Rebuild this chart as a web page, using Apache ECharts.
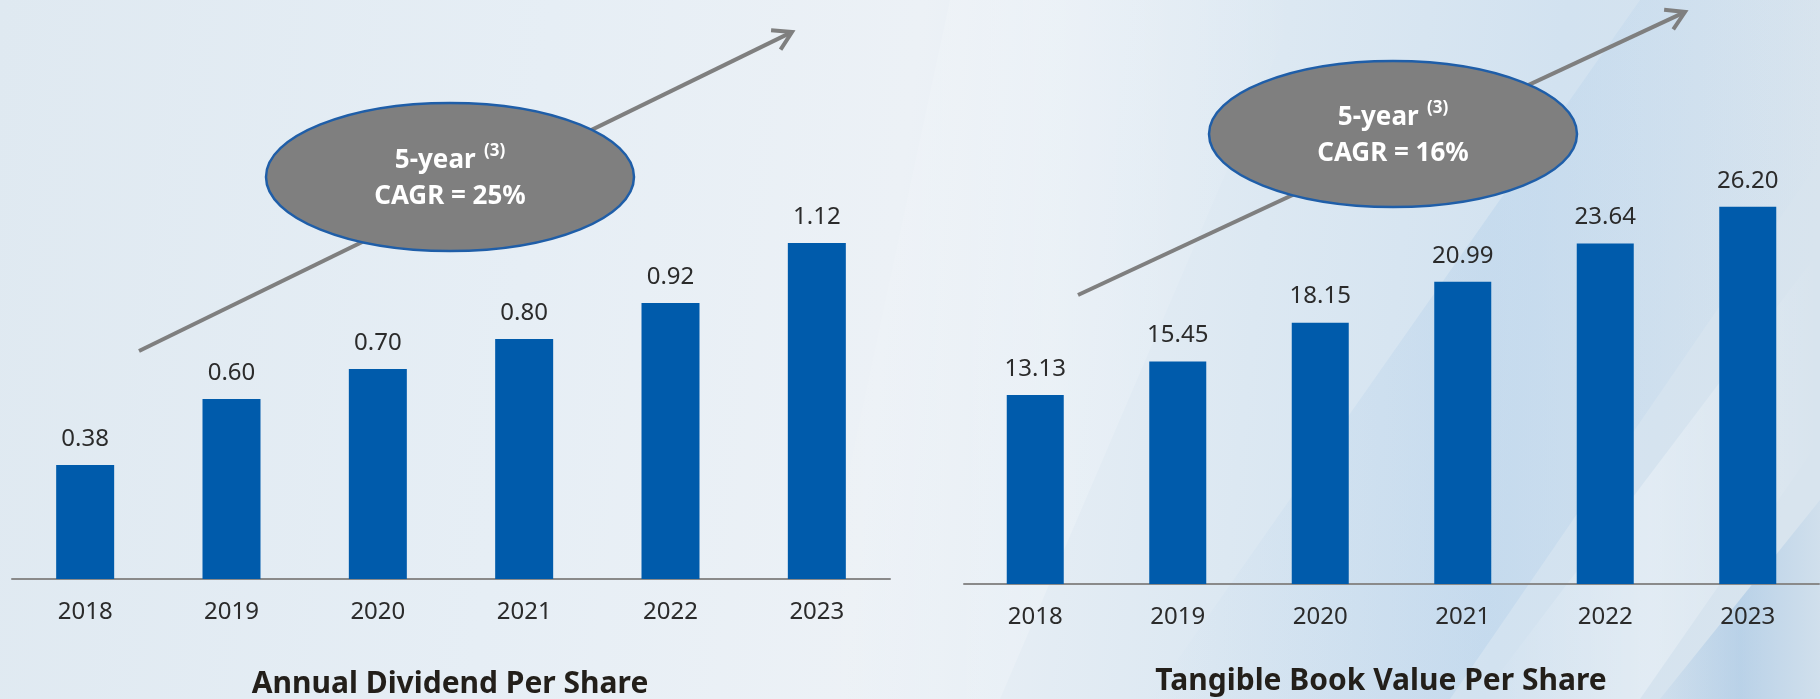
<!DOCTYPE html>
<html>
<head>
<meta charset="utf-8">
<script src="https://cdn.jsdelivr.net/npm/echarts@6/dist/echarts.min.js"></script>
<style>
html,body{margin:0;padding:0;width:1820px;height:699px;overflow:hidden;}
#chart{width:1820px;height:699px;}
</style>
</head>
<body>
<div id="chart"></div>
<script>
// ---- data ----
const years = ['2018', '2019', '2020', '2021', '2022', '2023'];
const dividendPerShare = [0.38, 0.60, 0.70, 0.80, 0.92, 1.12];
const tangibleBookValue = [13.13, 15.45, 18.15, 20.99, 23.64, 26.20];
const leftTitle = 'Annual Dividend Per Share';
const rightTitle = 'Tangible Book Value Per Share';
const leftCagr = 'CAGR = 25%';
const rightCagr = 'CAGR = 16%';

const FONT = '"Noto Sans", "Open Sans", sans-serif';
const BAR = '#005BAB';
const TXT = '#2b2b2b';

function arrow(x1, y1, x2, y2) {
  const dx = x2 - x1, dy = y2 - y1, L = Math.hypot(dx, dy);
  const ux = dx / L, uy = dy / L;
  const a = 31 * Math.PI / 180, len = 21;
  const bx = -ux, by = -uy;
  const p1 = [x2 + len * (bx * Math.cos(a) - by * Math.sin(a)), y2 + len * (bx * Math.sin(a) + by * Math.cos(a))];
  const p2 = [x2 + len * (bx * Math.cos(-a) - by * Math.sin(-a)), y2 + len * (bx * Math.sin(-a) + by * Math.cos(-a))];
  const st = {stroke: '#7f7f7f', lineWidth: 4, lineCap: 'butt', lineJoin: 'miter', fill: null};
  return [
    {type: 'line', z: 5, shape: {x1: x1, y1: y1, x2: x2 - ux * 2, y2: y2 - uy * 2}, style: st},
    {type: 'polyline', z: 5, shape: {points: [p1, [x2, y2], p2]}, style: st}
  ];
}

function bubble(cx, cy, rx, ry, line2) {
  return [
    {type: 'ellipse', z: 10, shape: {cx: cx, cy: cy, rx: rx, ry: ry},
     style: {fill: '#7f7f7f', stroke: '#1f5ea8', lineWidth: 2.5}},
    {type: 'text', z: 11, x: cx, y: cy + 2,
     style: {
       text: '{b|5-year} {s|(3)}\n{b|' + line2 + '}',
       align: 'center', verticalAlign: 'middle',
       fill: '#ffffff',
       rich: {
         b: {fontFamily: FONT, fontWeight: 'bold', fontSize: 26, lineHeight: 36, fill: '#ffffff', color: '#ffffff'},
         s: {fontFamily: FONT, fontWeight: 'bold', fontSize: 17, lineHeight: 27, verticalAlign: 'top',
             padding: [0, 0, 0, 5], fill: '#ffffff', color: '#ffffff'}
       }
     }}
  ];
}

function soft(c1, c2) {
  return {type: 'linear', x: 0, y: 0, x2: 1, y2: 0,
          colorStops: [{offset: 0, color: c2}, {offset: 0.5, color: c1}, {offset: 1, color: c2}]};
}

const streaks = [
  {type: 'polygon', z: -5, shape: {points: [[1150, 699], [1450, 699], [1820, 160], [1820, 0], [1640, 0]]},
   style: {fill: soft('rgba(170,202,232,0.32)', 'rgba(170,202,232,0)')}},
  {type: 'polygon', z: -5, shape: {points: [[1480, 699], [1640, 699], [1820, 440], [1820, 250]]},
   style: {fill: soft('rgba(255,255,255,0.3)', 'rgba(255,255,255,0)')}},
  {type: 'polygon', z: -5, shape: {points: [[1660, 699], [1820, 699], [1820, 500]]},
   style: {fill: soft('rgba(140,182,222,0.4)', 'rgba(140,182,222,0.1)')}},
  {type: 'polygon', z: -5, shape: {points: [[950, 0], [1300, 0], [1000, 699], [800, 699]]},
   style: {fill: soft('rgba(255,255,255,0.22)', 'rgba(255,255,255,0)')}}
];

const chart = echarts.init(document.getElementById('chart'), null, {renderer: 'canvas'});
chart.setOption({
  animation: false,
  backgroundColor: {
    type: 'linear', x: 0, y: 0, x2: 1, y2: 0.3,
    colorStops: [
      {offset: 0, color: '#dfe9f1'},
      {offset: 0.3, color: '#e6eef5'},
      {offset: 0.5, color: '#ecf1f6'},
      {offset: 0.7, color: '#dce8f2'},
      {offset: 0.85, color: '#d2e2f0'},
      {offset: 1, color: '#d8e4ee'}
    ]
  },
  textStyle: {fontFamily: FONT},
  grid: [
    {left: 12, right: 930, top: 129, bottom: 120},
    {left: 964, right: 1, top: 152, bottom: 115}
  ],
  xAxis: [
    {type: 'category', gridIndex: 0, data: years,
     axisLine: {lineStyle: {color: '#8a8a8a', width: 2}}, axisTick: {show: false},
     axisLabel: {margin: 21, fontSize: 24, color: TXT, fontFamily: FONT}},
    {type: 'category', gridIndex: 1, data: years,
     axisLine: {lineStyle: {color: '#8a8a8a', width: 2}}, axisTick: {show: false},
     axisLabel: {margin: 21, fontSize: 24, color: TXT, fontFamily: FONT}}
  ],
  yAxis: [
    {type: 'value', gridIndex: 0, min: 0, max: 1.5, show: false},
    {type: 'value', gridIndex: 1, min: 0, max: 30, show: false}
  ],
  series: [
    {type: 'bar', xAxisIndex: 0, yAxisIndex: 0, data: dividendPerShare, barWidth: 58,
     itemStyle: {color: BAR},
     label: {show: true, position: 'top', distance: 14, fontSize: 24, color: TXT, fontFamily: FONT,
             formatter: p => p.value.toFixed(2)}},
    {type: 'bar', xAxisIndex: 1, yAxisIndex: 1, data: tangibleBookValue, barWidth: 57,
     itemStyle: {color: BAR},
     label: {show: true, position: 'top', distance: 14, fontSize: 24, color: TXT, fontFamily: FONT,
             formatter: p => p.value.toFixed(2)}}
  ],
  graphic: {
    elements: [].concat(
      streaks,
      arrow(139, 351, 792, 32),
      arrow(1078, 295, 1685, 12),
      bubble(450, 177, 184, 74, leftCagr),
      bubble(1393, 134, 184, 73, rightCagr),
      [
        {type: 'text', z: 12, x: 450, y: 684,
         style: {text: leftTitle, align: 'center', verticalAlign: 'middle', fill: '#231f1a',
                 font: 'bold 30px ' + FONT}},
        {type: 'text', z: 12, x: 1381, y: 681,
         style: {text: rightTitle, align: 'center', verticalAlign: 'middle', fill: '#231f1a',
                 font: 'bold 30px ' + FONT}}
      ]
    )
  }
});
</script>
</body>
</html>
